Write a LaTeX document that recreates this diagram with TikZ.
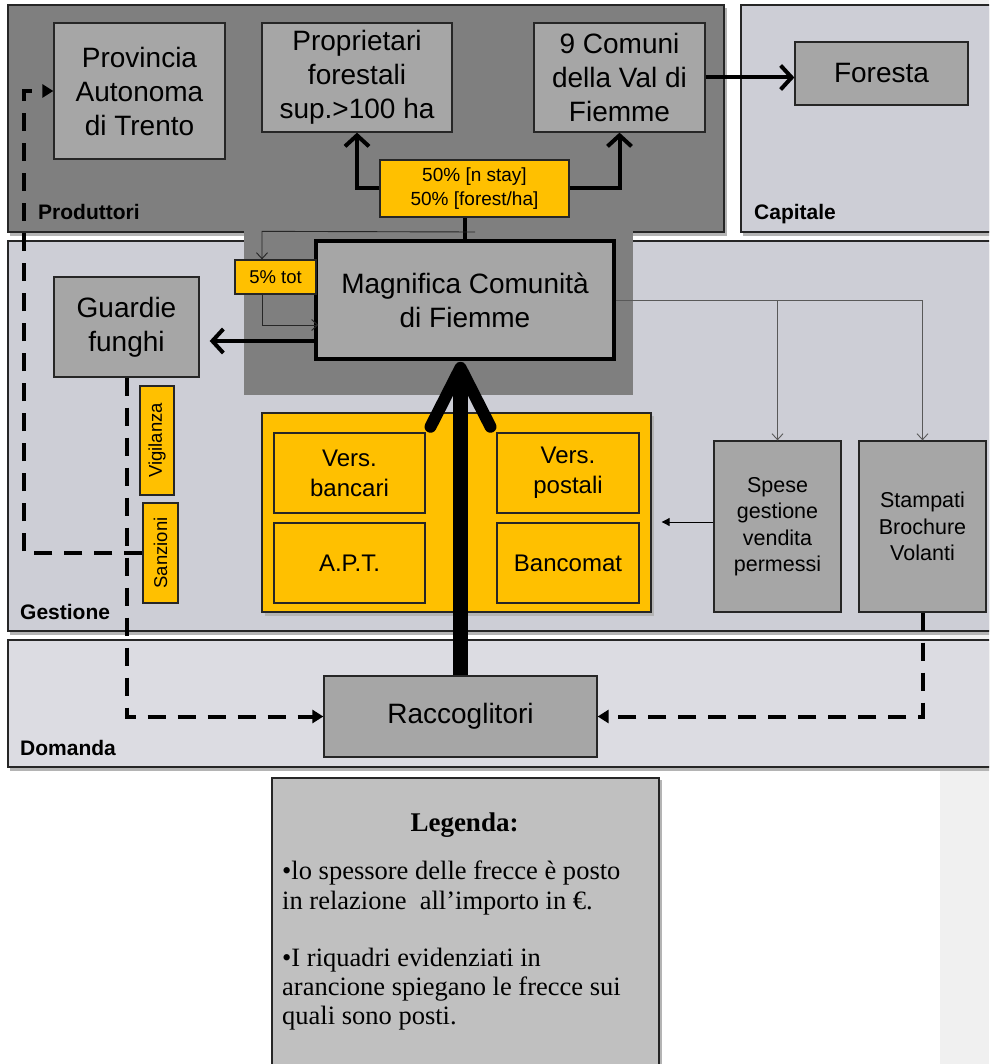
\documentclass[tikz,border=0pt]{standalone}
\usepackage{fontspec}
\setmainfont{Liberation Sans}
\newfontfamily\legfont{Liberation Serif}
\usetikzlibrary{arrows.meta,calc}
\definecolor{darkpanel}{HTML}{7F7F7F}
\definecolor{lightpanel}{HTML}{CDCED6}
\definecolor{demandpanel}{HTML}{DCDCE2}
\definecolor{boxgrey}{HTML}{A6A6A6}
\definecolor{myorange}{HTML}{FFC000}
\definecolor{legfill}{HTML}{C0C0C0}
\definecolor{stripgrey}{HTML}{F0F0F0}
\definecolor{edge}{HTML}{262626}
\definecolor{thinline}{HTML}{595959}
\definecolor{shadowgrey}{HTML}{B4B4B4}
\begin{document}
\begin{tikzpicture}[x=1pt,y=-1pt,
 panel/.style={draw=edge,line width=1.3pt},
 box/.style={draw=edge,fill=boxgrey,line width=1.3pt,inner sep=0pt,align=center},
 obox/.style={draw=edge,fill=myorange,line width=1.3pt,inner sep=0pt,align=center},
 bigtext/.style={font=\fontsize{28}{34}\selectfont},
 midtext/.style={font=\fontsize{24}{30}\selectfont},
 smalltext/.style={font=\fontsize{21.5}{26.5}\selectfont},
 pcttext/.style={font=\fontsize{19}{24}\selectfont},
 paneltitle/.style={font=\bfseries\fontsize{21}{25}\selectfont,anchor=base west,inner sep=0pt},
 legtext/.style={font=\legfont\fontsize{26.5}{29.5}\selectfont,anchor=base west,inner sep=0pt},
 fatarrow/.style={line width=4pt,-{Straight Barb[length=11pt,width=24pt]}},
 finearrow/.style={draw=thinline,line width=0.9pt,-{Straight Barb[length=6pt,width=11pt]}},
 dashlink/.style={line width=4pt,dash pattern=on 18pt off 12pt,-{Triangle[length=11pt,width=13pt]}},
]
\useasboundingbox (0,0) rectangle (989,1064);
\clip (0,0) rectangle (989,1064);
\fill[white] (0,0) rectangle (989,1064);
\fill[stripgrey] (940,0) rectangle (989,1064);

% panel shadows
\fill[shadowgrey] (10,8) rectangle (727,236);
\fill[shadowgrey] (743,8) rectangle (995,236);
\fill[shadowgrey] (10,244) rectangle (995,635);
\fill[shadowgrey] (10,643) rectangle (995,771);

% panels
\draw[panel,fill=darkpanel] (8,5) rectangle (724,232);
\draw[panel,fill=lightpanel] (741,5) rectangle (992,232);
\draw[panel,fill=lightpanel] (8,241) rectangle (992,631);
\draw[panel,fill=demandpanel] (8,640) rectangle (992,767);
\fill[darkpanel] (244,231) rectangle (633,395);

\node[paneltitle] (tprod) at (38,220) {Produttori};
\node[paneltitle] (tcap) at (754,220) {Capitale};
\node[paneltitle] (tgest) at (20,619) {Gestione};
\node[paneltitle] (tdom) at (20,755) {Domanda};

% nodes
\node[box,bigtext,minimum width=171,minimum height=136] (prov) at (139.5,91) {Provincia\\Autonoma\\di Trento};
\node[box,bigtext,minimum width=190,minimum height=109] (prop) at (357,77.5) {Proprietari\\forestali\\sup.>100 ha};
\node[box,bigtext,minimum width=171,minimum height=109] (comuni) at (619.5,77.5) {9 Comuni\\della Val di\\Fiemme};
\node[box,bigtext,minimum width=173,minimum height=63] (foresta) at (881.5,73.5) {Foresta};
\node[obox,pcttext,minimum width=189,minimum height=57] (pct50) at (474.5,188.5) {50\% [n stay]\\50\% [forest/ha]};
\node[box,bigtext,line width=3.5pt,draw=black,minimum width=298,minimum height=118] (magn) at (465,300) {Magnifica Comunità\\di Fiemme};
\node[obox,font=\fontsize{18.5}{22}\selectfont,minimum width=81,minimum height=34] (pct5) at (275.5,277) {5\% tot};
\node[box,bigtext,minimum width=145,minimum height=100] (guard) at (126.5,327) {Guardie\\funghi};
\node[obox,font=\fontsize{18.5}{22}\selectfont,minimum width=109,minimum height=34,rotate=90] (vig) at (157,440.5) {Vigilanza};
\node[obox,font=\fontsize{18.5}{22}\selectfont,minimum width=100,minimum height=35,rotate=90] (sanz) at (160.5,553) {Sanzioni};
\fill[shadowgrey] (265,416) rectangle (654,616);
\node[obox,minimum width=389,minimum height=199] (payframe) at (456.5,512.5) {};
\node[obox,midtext,minimum width=151,minimum height=80] (vbanc) at (349.5,473) {Vers.\\bancari};
\node[obox,midtext,minimum width=151,minimum height=80] (apt) at (349.5,563) {A.P.T.};
\node[obox,midtext,minimum width=142,minimum height=80] (vpost) at (568,473) {Vers.\\postali};
\node[obox,midtext,minimum width=142,minimum height=80] (banc) at (568,563) {Bancomat};
\node[box,smalltext,minimum width=127,minimum height=171] (spese) at (777.5,526.5) {Spese\\gestione\\vendita\\permessi};
\node[box,smalltext,minimum width=127,minimum height=171] (stamp) at (922.5,526.5) {Stampati\\Brochure\\Volanti};
\node[box,bigtext,minimum width=273,minimum height=81] (racc) at (460.5,716.5) {Raccoglitori};

% legend
\fill[shadowgrey] (274,780) rectangle (662,1080);
\node[draw=edge,fill=legfill,line width=2pt,minimum width=387,minimum height=320,inner sep=0pt,anchor=north west] (legend) at (271,777) {};
\node[font=\legfont\bfseries\fontsize{27}{30}\selectfont,anchor=base,inner sep=0pt] (legtitle) at (464.5,831) {Legenda:};
\node[legtext] (leg1) at (282,879) {•lo spessore delle frecce è posto};
\node[legtext] (leg2) at (282,909) {in relazione\ \ all’importo in €.};
\node[legtext] (leg3) at (282,966) {•I riquadri evidenziati in};
\node[legtext] (leg4) at (282,995) {arancione spiegano le frecce sui};
\node[legtext] (leg5) at (282,1024) {quali sono posti.};

% connectors
\draw[fatarrow] (pct50.west) -| (prop.south);
\draw[fatarrow] (pct50.east) -| (comuni.south);
\draw[line width=4pt] (pct50.south -| magn.north) -- (magn.north);
\draw[fatarrow] (comuni.east) -- (comuni.east -| foresta.west);
\draw[fatarrow] ($(magn.west)+(0,41)$) -- ($(guard.east)+(10,14)$);

\coordinate (split) at (475,232);
\draw[finearrow,draw=edge] (split) -- ($(pct5.north)+(-13.5,-28)$) -- ($(pct5.north)+(-13.5,0)$);
\draw[finearrow,draw=edge] ($(pct5.south)+(-13.5,0)$) |- ($(magn.west)+(4,25)$);
\draw[finearrow] (magn.east) -| (spese.north);
\draw[finearrow] (magn.east) -| (stamp.north);
\draw[line width=0.9pt,-{Triangle[length=8pt,width=8pt]}] (spese.west |- 0,522) -- ($(payframe.east |- 0,522)+(10,0)$);

% big flow
\draw[line width=15pt] (racc.north) -- ($(racc.north |- magn.south)+(0,8)$);
\draw[line width=12pt,line cap=round,line join=round] ($(racc.north |- magn.south)+(-30,66)$) -- ($(racc.north |- magn.south)+(0,7)$) -- ($(racc.north |- magn.south)+(30,66)$);

% dashed links
\draw[dashlink] (guard.south) |- (racc.west);
\draw[dashlink] (stamp.south) |- (racc.east);
\draw[dashlink] (sanz.north) -- ++(-118,0) |- (prov.west);
\end{tikzpicture}
\end{document}
